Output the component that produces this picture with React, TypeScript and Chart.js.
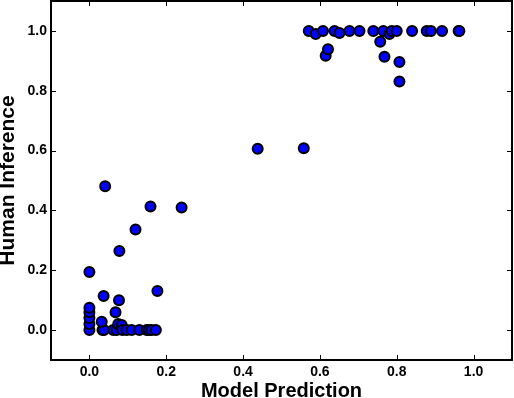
import React, { useEffect, useRef } from "react";
import { Chart, registerables } from "chart.js";

Chart.register(...registerables);

const modelPrediction = [
  0.0, 0.0, 0.0, 0.0, 0.0, 0.0,
  0.034, 0.038, 0.032, 0.037, 0.041,
  0.062, 0.068, 0.071, 0.075, 0.077, 0.078,
  0.084, 0.086, 0.097, 0.11, 0.12, 0.13, 0.149, 0.155, 0.159, 0.162, 0.173, 0.177, 0.24,
  0.438, 0.558,
  0.571, 0.589, 0.608, 0.615, 0.621, 0.638, 0.651, 0.677, 0.703, 0.739, 0.757, 0.765,
  0.768, 0.781, 0.787, 0.8, 0.807, 0.807, 0.84, 0.878, 0.889, 0.918, 0.961, 0.963,
];
const humanInference = [
  0.0, 0.02, 0.04, 0.06, 0.075, 0.194,
  0.0, 0.0, 0.028, 0.114, 0.481,
  0.0, 0.06, 0.0, 0.02, 0.1, 0.264,
  0.017, 0.0, 0.0, 0.0, 0.336, 0.0, 0.0, 0.0, 0.413, 0.0, 0.0, 0.131, 0.41,
  0.606, 0.608,
  1.0, 0.99, 1.0, 0.917, 0.939, 1.0, 0.993, 1.0, 1.0, 1.0, 0.964, 1.0,
  0.914, 0.99, 1.0, 1.0, 0.896, 0.831, 1.0, 1.0, 1.0, 1.0, 1.0, 1.0,
];
const xTickValues = [0.0, 0.2, 0.4, 0.6, 0.8, 1.0];
const yTickValues = [0.0, 0.2, 0.4, 0.6, 0.8, 1.0];
const xAxisTitle = "Model Prediction";
const yAxisTitle = "Human Inference";

const FONT = "'Liberation Sans', Arial, sans-serif";

const framePlugin = {
  id: "frameTicks",
  afterDraw(chart: any) {
    const { ctx, chartArea, scales } = chart;
    const { left, right, top, bottom } = chartArea;
    ctx.save();
    ctx.strokeStyle = "#000";
    ctx.lineWidth = 1;
    ctx.beginPath();
    for (const v of xTickValues) {
      const x = Math.round(scales.x.getPixelForValue(v)) + 0.5;
      ctx.moveTo(x, top);
      ctx.lineTo(x, top + 5);
      ctx.moveTo(x, bottom);
      ctx.lineTo(x, bottom - 5);
    }
    for (const v of yTickValues) {
      const y = Math.round(scales.y.getPixelForValue(v)) + 0.5;
      ctx.moveTo(left, y);
      ctx.lineTo(left + 5, y);
      ctx.moveTo(right, y);
      ctx.lineTo(right - 5, y);
    }
    ctx.stroke();
    ctx.lineWidth = 2;
    ctx.strokeRect(left, top, right - left, bottom - top);
    ctx.restore();
  },
};

export default function App() {
  const ref = useRef<HTMLCanvasElement | null>(null);

  useEffect(() => {
    if (!ref.current) return;
    const points = modelPrediction.map((x, i) => ({ x, y: humanInference[i] }));
    const chart = new Chart(ref.current, {
      type: "scatter",
      data: {
        datasets: [
          {
            data: points,
            backgroundColor: "#0000ff",
            borderColor: "#000000",
            borderWidth: 2,
            pointRadius: 5,
          },
        ],
      },
      options: {
        animation: false,
        responsive: false,
        maintainAspectRatio: false,
        events: [],
        layout: { autoPadding: false, padding: { top: 1, right: 2, left: 0, bottom: 0 } },
        plugins: { legend: { display: false }, tooltip: { enabled: false } },
        scales: {
          x: {
            type: "linear",
            min: -0.1,
            max: 1.1,
            grid: { display: false, drawTicks: false },
            border: { display: false },
            afterBuildTicks: (s: any) => {
              s.ticks = xTickValues.map((v) => ({ value: v }));
            },
            afterFit: (s: any) => {
              s.height = 38;
              s.paddingLeft = 0;
              s.paddingRight = 0;
              s.paddingTop = 0;
              s.paddingBottom = 0;
            },
            ticks: {
              padding: 4,
              color: "#000",
              font: { family: FONT, size: 14, weight: "bold" },
              callback: (v: any) => Number(v).toFixed(1),
            },
            title: {
              display: true,
              text: xAxisTitle,
              color: "#000",
              font: { family: FONT, size: 20, weight: "bold", lineHeight: 1 },
              padding: { top: 0, bottom: -3 },
            },
          },
          y: {
            type: "linear",
            min: -0.1,
            max: 1.1,
            grid: { display: false, drawTicks: false },
            border: { display: false },
            afterBuildTicks: (s: any) => {
              s.ticks = yTickValues.map((v) => ({ value: v }));
            },
            afterFit: (s: any) => {
              s.width = 51;
              s.paddingLeft = 0;
              s.paddingRight = 0;
              s.paddingTop = 0;
              s.paddingBottom = 0;
            },
            ticks: {
              padding: 4,
              color: "#000",
              font: { family: FONT, size: 14, weight: "bold" },
              callback: (v: any) => Number(v).toFixed(1),
            },
            title: {
              display: true,
              text: yAxisTitle,
              color: "#000",
              font: { family: FONT, size: 21, weight: "bold", lineHeight: 1 },
              padding: { top: -2, bottom: 0 },
            },
          },
        },
      },
      plugins: [framePlugin],
    });
    return () => chart.destroy();
  }, []);

  return (
    <div style={{ position: "absolute", left: 0, top: 0, width: 514, height: 398, background: "#fff" }}>
      <canvas ref={ref} width={514} height={398} style={{ display: "block" }} />
    </div>
  );
}
